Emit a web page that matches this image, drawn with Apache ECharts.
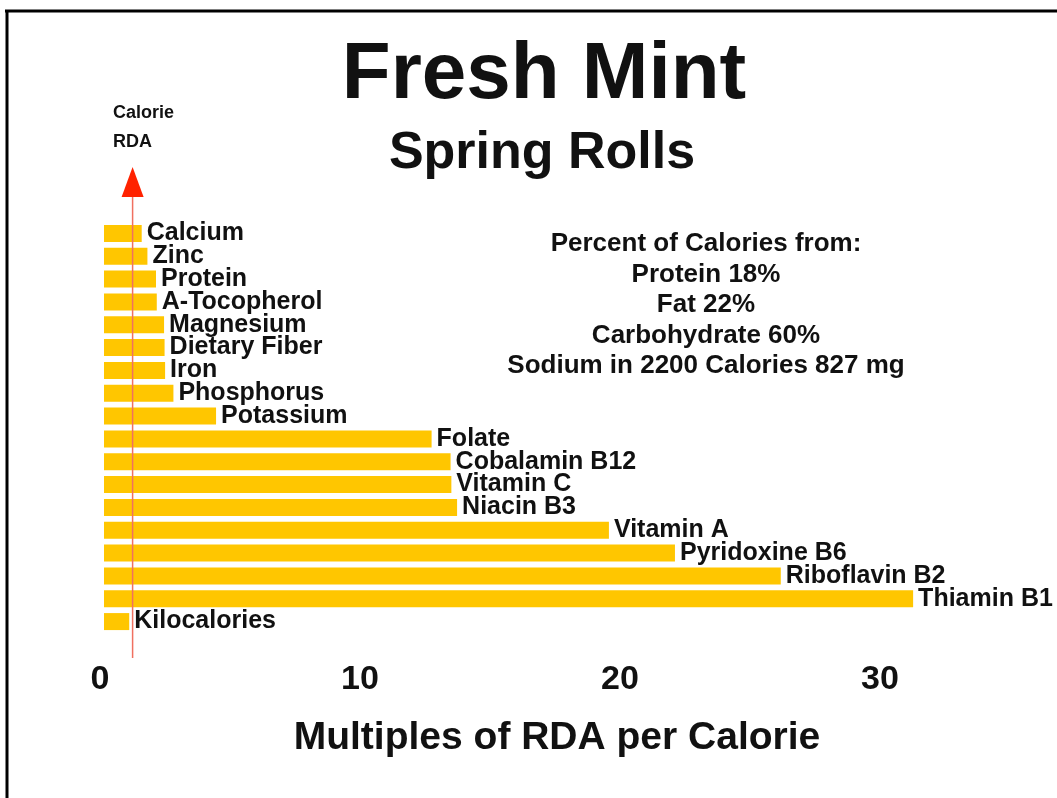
<!DOCTYPE html>
<html>
<head>
<meta charset="utf-8">
<script src="https://cdn.jsdelivr.net/npm/echarts@6/dist/echarts.min.js"></script>
<style>
html, body { margin: 0; padding: 0; background: #fff; }
#main { width: 1057px; height: 798px; }
</style>
</head>
<body>
<div id="main"></div>
<script>
// nutrients, top to bottom
var nutrients = ['Calcium', 'Zinc', 'Protein', 'A-Tocopherol', 'Magnesium', 'Dietary Fiber', 'Iron',
    'Phosphorus', 'Potassium', 'Folate', 'Cobalamin B12', 'Vitamin C', 'Niacin B3', 'Vitamin A',
    'Pyridoxine B6', 'Riboflavin B2', 'Thiamin B1', 'Kilocalories'];
// multiples of RDA per calorie
var multiples = [1.45, 1.67, 2.0, 2.03, 2.31, 2.33, 2.35, 2.67, 4.31, 12.6, 13.33, 13.36, 13.58,
    19.42, 21.96, 26.03, 31.12, 0.97];
var calorieRda = 1.1;
var infoLines = ['Percent of Calories from:', 'Protein 18%', 'Fat 22%', 'Carbohydrate 60%',
    'Sodium in 2200 Calories 827 mg'];

var font = '"Liberation Sans", Arial, sans-serif';
var myChart = echarts.init(document.getElementById('main'));

var option = {
    backgroundColor: '#fff',
    animation: false,
    title: [
        {
            text: 'Fresh Mint', left: 539, top: 31, textAlign: 'center',
            textStyle: { fontFamily: font, fontSize: 80, fontWeight: 'bold', color: '#111' }
        },
        {
            text: 'Spring Rolls', left: 537, top: 123, textAlign: 'center',
            textStyle: { fontFamily: font, fontSize: 52, fontWeight: 'bold', color: '#111' }
        }
    ],
    grid: { left: 104, width: 936, top: 222, height: 411 },
    xAxis: {
        type: 'value',
        min: 0,
        max: 36,
        interval: 10,
        axisLine: { show: false },
        axisTick: { show: false },
        splitLine: { show: false },
        axisLabel: {
            showMaxLabel: false,
            margin: 30,
            padding: [0, 8, 0, 0],
            fontFamily: font, fontSize: 34, fontWeight: 'bold', color: '#111'
        },
        name: 'Multiples of RDA per Calorie',
        nameLocation: 'middle',
        nameGap: 86,
        nameTextStyle: {
            fontFamily: font, fontSize: 39, fontWeight: 'bold', color: '#111',
            padding: [0, 30, 0, 0]
        }
    },
    yAxis: {
        type: 'category',
        data: nutrients,
        inverse: true,
        show: false
    },
    series: [
        {
            name: 'RDA',
            type: 'bar',
            data: multiples,
            barWidth: 17,
            itemStyle: { color: '#FFC600' },
            label: {
                show: true,
                position: 'right',
                distance: 5,
                formatter: '{b}',
                fontFamily: font, fontSize: 25, fontWeight: 'bold', color: '#111'
            }
        }
    ]
};
myChart.setOption(option);

// red "Calorie RDA" marker line, placed via the x scale
var px = myChart.convertToPixel({ xAxisIndex: 0 }, calorieRda);
myChart.setOption({
    graphic: [
        { type: 'line', shape: { x1: 5, y1: 11, x2: 1057, y2: 11 }, style: { stroke: '#000', lineWidth: 3 } },
        { type: 'line', shape: { x1: 7, y1: 10, x2: 7, y2: 798 }, style: { stroke: '#000', lineWidth: 3 } },
        {
            type: 'line', z: 10,
            shape: { x1: px, y1: 195, x2: px, y2: 658 },
            style: { stroke: '#f07060', lineWidth: 1.5 }
        },
        {
            type: 'polygon', z: 10,
            shape: { points: [[px, 167], [px - 11, 197], [px + 11, 197]] },
            style: { fill: '#ff2200' }
        },
        {
            type: 'text', left: 113, top: 99,
            style: {
                text: 'Calorie\nRDA', lineHeight: 29,
                font: 'bold 18px ' + font, fill: '#111'
            }
        },
        {
            type: 'text', x: 706, y: 229,
            style: {
                text: infoLines.join('\n'), textAlign: 'center', lineHeight: 30.5,
                font: 'bold 26px ' + font, fill: '#111'
            }
        }
    ]
});
</script>
</body>
</html>
